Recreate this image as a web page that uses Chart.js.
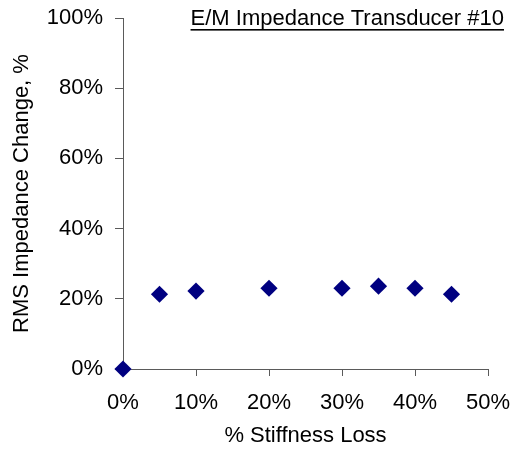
<!DOCTYPE html>
<html>
<head>
<meta charset="utf-8">
<script src="https://cdn.jsdelivr.net/npm/chart.js@4"></script>
<style>
  html, body { margin: 0; padding: 0; background: #fff; }
  #wrap { width: 514px; height: 452px; }
</style>
</head>
<body>
<div id="wrap"><canvas id="c" width="514" height="452"></canvas></div>
<script>
const chartTitle = "E/M Impedance Transducer #10";
const xAxisTitle = "% Stiffness Loss";
const yAxisTitle = "RMS Impedance Change, %";
const stiffnessLoss = [0, 5, 10, 20, 30, 35, 40, 45];
const impedanceChange = [0, 21.3, 22.2, 23.0, 23.0, 23.6, 23.0, 21.3];
const xTicks = [0, 10, 20, 30, 40, 50];
const yTicks = [0, 20, 40, 60, 80, 100];

const FONT = "'Liberation Sans', Arial, sans-serif";
const AXIS = '#5a5a5a';

const titlePlugin = {
  id: 'underlinedTitle',
  afterDraw(chart) {
    const ctx = chart.ctx;
    ctx.save();
    ctx.font = '22px ' + FONT;
    ctx.fillStyle = '#000';
    ctx.textAlign = 'right';
    ctx.textBaseline = 'alphabetic';
    const right = 504, base = 25;
    ctx.fillText(chartTitle, right, base);
    const w = ctx.measureText(chartTitle).width;
    ctx.fillRect(right - w, base + 4, w, 1.6);
    ctx.restore();
  }
};

new Chart(document.getElementById('c'), {
  type: 'scatter',
  data: {
    datasets: [{
      data: stiffnessLoss.map((x, i) => ({ x: x, y: impedanceChange[i] })),
      pointStyle: 'rectRot',
      radius: 8.6,
      hoverRadius: 8.6,
      backgroundColor: '#000080',
      borderColor: '#000080',
      borderWidth: 0,
      clip: false
    }]
  },
  options: {
    responsive: false,
    animation: false,
    devicePixelRatio: 1,
    layout: { padding: { left: 0, right: 26, top: 18, bottom: 0 } },
    plugins: { legend: { display: false }, tooltip: { enabled: false }, title: { display: false } },
    scales: {
      x: {
        type: 'linear',
        min: 0, max: 50,
        afterBuildTicks(s) { s.ticks = xTicks.map(v => ({ value: v })); },
        afterFit(s) { s.height = 83; s.paddingLeft = 0; s.paddingRight = 0; },
        ticks: { color: '#000', font: { family: FONT, size: 22 }, padding: 14, maxRotation: 0, callback: v => v + '%' },
        grid: { display: true, drawOnChartArea: false, drawTicks: true, tickLength: 7, color: AXIS, lineWidth: 1 },
        border: { display: true, color: AXIS, width: 1 },
        title: { display: true, text: xAxisTitle, color: '#000', font: { family: FONT, size: 22 }, padding: { top: 0, bottom: 3 } }
      },
      y: {
        type: 'linear',
        min: 0, max: 100,
        afterBuildTicks(s) { s.ticks = yTicks.map(v => ({ value: v })); },
        afterFit(s) { s.width = 123; s.paddingTop = 0; s.paddingBottom = 0; },
        ticks: { color: '#000', font: { family: FONT, size: 22 }, padding: 12, callback: v => v + '%' },
        grid: { display: true, drawOnChartArea: false, drawTicks: true, tickLength: 8, color: AXIS, lineWidth: 1 },
        border: { display: true, color: AXIS, width: 1 },
        title: { display: true, text: yAxisTitle, color: '#000', font: { family: FONT, size: 22 }, padding: { top: 9, bottom: 0 } }
      }
    }
  },
  plugins: [titlePlugin]
});
</script>
</body>
</html>
